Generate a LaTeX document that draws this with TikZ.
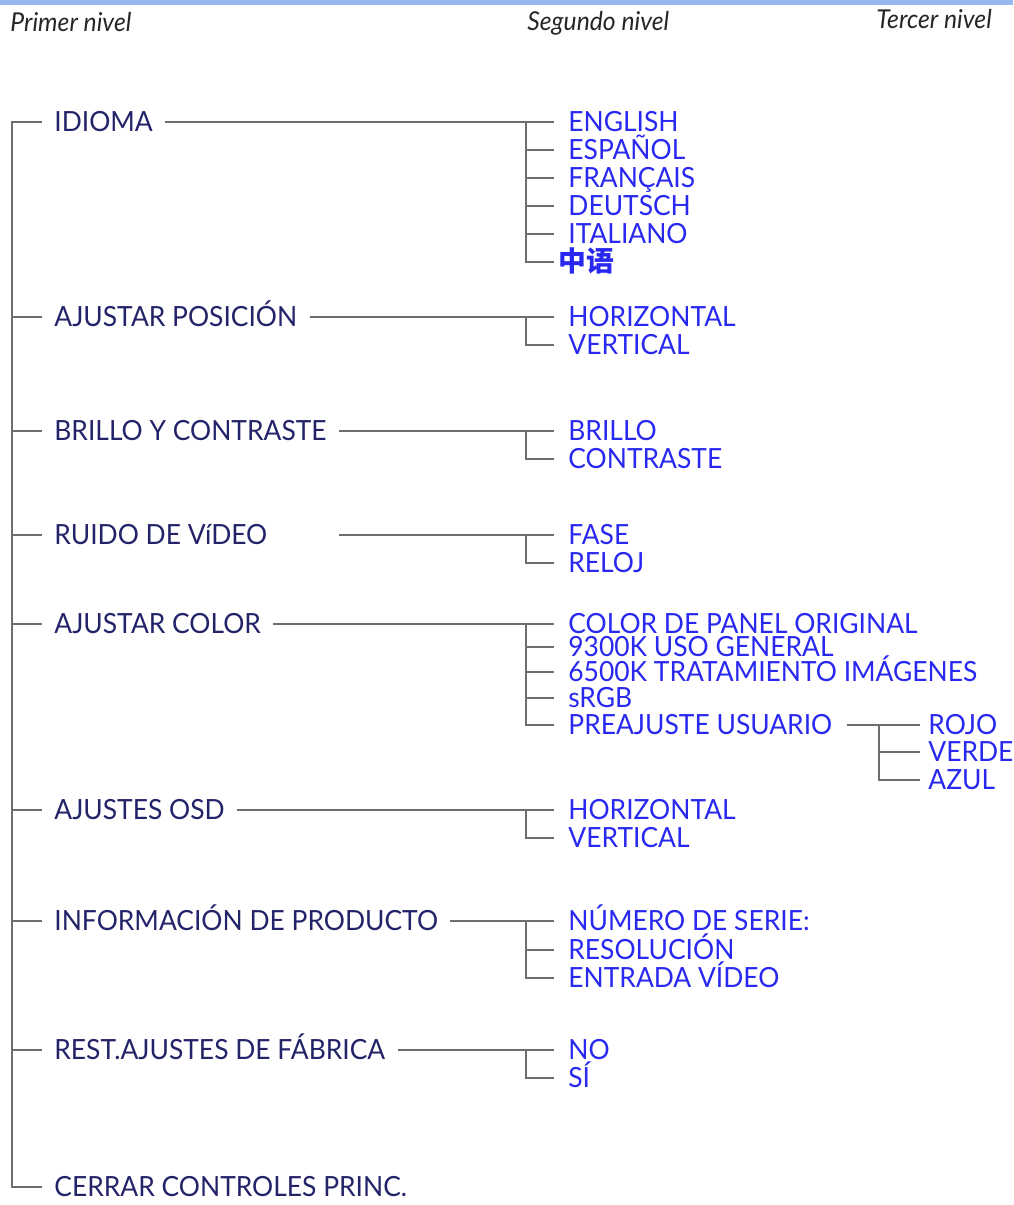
\documentclass[tikz,border=0pt]{standalone}
\usepackage{fontspec}
\setmainfont{Lato}[FakeStretch=0.95]
\newfontfamily\cjk{Noto Sans CJK SC}

\definecolor{marino}{RGB}{35,35,105}
\definecolor{azulmenu}{RGB}{40,40,240}
\definecolor{gris}{RGB}{110,110,110}
\definecolor{barra}{RGB}{150,185,240}

\tikzset{
  nivel1/.style={anchor=west, text=marino, font={\fontsize{13.9}{16}\selectfont},
    inner xsep=6pt, inner ysep=0pt, text height=10.5pt, text depth=0.7pt},
  nivel2/.style={nivel1, text=azulmenu, inner xsep=7pt},
  nivel3/.style={nivel2, inner xsep=4pt},
  titulo/.style={anchor=west, text=black!85, font={\fontsize{13}{15}\selectfont\itshape}, inner sep=0pt},
  rama/.style={draw=gris, line width=0.8pt}
}

\begin{document}
\begin{tikzpicture}[x=0.5pt,y=-0.5pt]
  \useasboundingbox (0,0) rectangle (1013,1205);
  % barra de arriba
  \fill[barra] (0,0) rectangle (1013,4.5);

  % titulos de columna
  \node[titulo] (tit1) at (10,22) {Primer nivel};
  \node[titulo] (tit2) at (527,23) {Segundo nivel};
  \node[titulo] (tit3) at (876,19) {Tercer nivel};

  % primer nivel
  \node[nivel1] (idioma) at (42,122) {IDIOMA};
  \node[nivel1] (ajpos) at (42,317) {AJUSTAR POSICIÓN};
  \node[nivel1] (brillo) at (42,431) {BRILLO Y CONTRASTE};
  \node[nivel1] (ruido) at (42,535) {RUIDO DE VíDEO};
  \node[nivel1] (color) at (42,624) {AJUSTAR COLOR};
  \node[nivel1] (osd) at (42,810) {AJUSTES OSD};
  \node[nivel1] (info) at (42,921) {INFORMACIÓN DE PRODUCTO};
  \node[nivel1] (rest) at (42,1050) {REST.AJUSTES DE FÁBRICA};
  \node[nivel1] (cerrar) at (42,1187) {CERRAR CONTROLES PRINC.};

  % segundo nivel
  \foreach \n/\y/\t in {english/122/ENGLISH, espanol/150/ESPAÑOL, frances/178/FRANÇAIS,
      deutsch/206/DEUTSCH, italiano/234/ITALIANO,
      horiz1/317/HORIZONTAL, vert1/345/VERTICAL,
      brillo2/431/BRILLO, contraste/459/CONTRASTE,
      fase/535/FASE, reloj/563/RELOJ,
      panel/624/COLOR DE PANEL ORIGINAL, k9300/647/9300K USO GENERAL,
      k6500/672/6500K TRATAMIENTO IMÁGENES, srgb/698/sRGB, preajuste/725/PREAJUSTE USUARIO,
      horiz2/810/HORIZONTAL, vert2/838/VERTICAL,
      numero/921/NÚMERO DE SERIE:, resolucion/950/RESOLUCIÓN, entrada/978/ENTRADA VÍDEO,
      no/1050/NO, si/1078/SÍ}
    \node[nivel2] (\n) at (554,\y) {\t};
  \node[nivel2, inner xsep=2pt] (chino) at (554,262) {\cjk\bfseries 中语};

  % tercer nivel
  \node[nivel3] (rojo) at (920,725) {ROJO};
  \node[nivel3] (verde) at (920,752) {VERDE};
  \node[nivel3] (azul) at (920,780) {AZUL};

  % tronco
  \coordinate (raiz) at (12,122);
  \draw[rama] (idioma.west) -- (raiz) |- (cerrar.west);
  \foreach \n in {ajpos,brillo,ruido,color,osd,info,rest}
    \draw[rama] (raiz |- \n.west) -- (\n.west);

  % ramas hacia el segundo nivel
  \draw[rama] (ruido.east -| brillo.east) -- (fase);
  \foreach \p/\h in {idioma/english, ajpos/horiz1, brillo/brillo2, color/panel,
      osd/horiz2, info/numero, rest/no}
    \draw[rama] (\p) -- (\h);
  \foreach \h/\c in {english/espanol, english/frances, english/deutsch, english/italiano,
      english/chino, horiz1/vert1, brillo2/contraste, fase/reloj,
      panel/k9300, panel/k6500, panel/srgb, panel/preajuste,
      horiz2/vert2, numero/resolucion, numero/entrada, no/si}
    \draw[rama] (\h.west) +(-28,0) |- (\c.west);

  % ramas hacia el tercer nivel
  \draw[rama] (preajuste) -- (rojo);
  \foreach \c in {verde,azul}
    \draw[rama] (rojo.west) +(-41,0) |- (\c.west);
\end{tikzpicture}
\end{document}
